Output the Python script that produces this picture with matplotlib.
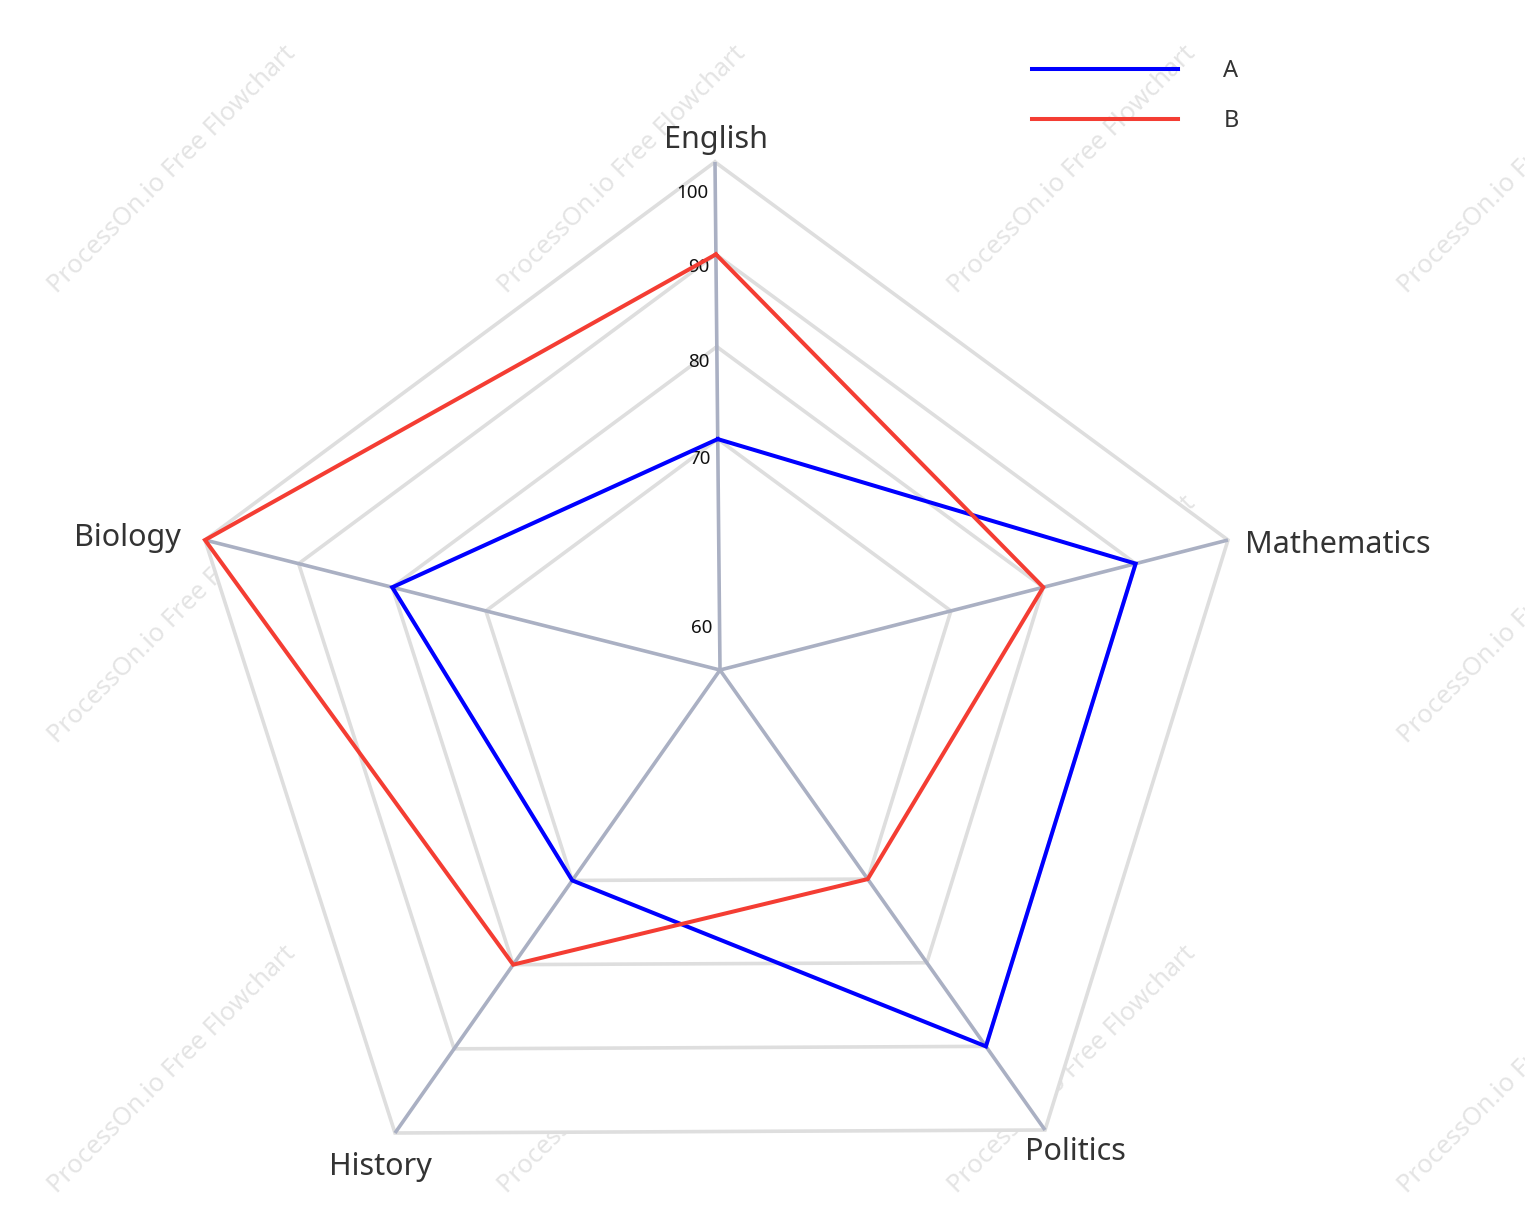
import numpy as np
import matplotlib
matplotlib.use("Agg")
import matplotlib.pyplot as plt

# ---------------- data ----------------
categories = ["English", "Mathematics", "Politics", "History", "Biology"]
series_names = ["A", "B"]
scores_a = [70, 90, 90, 70, 80]
scores_b = [90, 80, 70, 80, 100]
ring_values = [70, 80, 90, 100]
tick_values = [60, 70, 80, 90, 100]
tick_labels = ["60", "70", "80", "90", "100"]
r_min, r_max = 45, 100
watermark = "ProcessOn.io Free Flowchart"

# ---------------- layout ----------------
W, H = 1525, 1230
center = np.array([720.0, 670.0])
spoke_ends = np.array([[715, 162], [1228, 540], [1045, 1130], [395, 1133], [205, 540]], float)
spokes = spoke_ends - center
# label placement (dx, dy, ha) relative to spoke end, baseline anchored
cat_offsets = [(1, -14, "center"), (17, 13, "left"), (-20, 30, "left"),
               (-15, 42, "center"), (-24, 6, "right")]
tick_label_frac = [0.083, 0.415, 0.606, 0.793, 0.939]

col_a = "#0000ff"
col_b = "#f43d33"
ring_col = "#dedede"
spoke_col = "#aab0c3"
text_col = "#333333"

plt.rcParams["font.family"] = ["Noto Sans", "DejaVu Sans"]

fig = plt.figure(figsize=(W / 100, H / 100), dpi=100)
ax = fig.add_axes([0, 0, 1, 1])
ax.set_xlim(0, W)
ax.set_ylim(H, 0)
ax.axis("off")


def radial(v):
    return (np.asarray(v, float) - r_min) / (r_max - r_min)


def to_xy(values):
    f = radial(values)[:, None]
    pts = center + f * spokes
    pts = np.vstack([pts, pts[:1]])
    return pts[:, 0], pts[:, 1]


# watermark tiles
for cx in [172, 622, 1072, 1522]:
    for cy in [170, 620, 1070]:
        ax.text(cx, cy, watermark, rotation=45, rotation_mode="anchor",
                ha="center", va="center", color="#e4e4e4", fontsize=18.3, zorder=0)

# white background of radar area
ox, oy = to_xy([r_max] * len(categories))
ax.fill(ox, oy, color="white", zorder=1, lw=0)

# rings
for v in ring_values:
    xs, ys = to_xy([v] * len(categories))
    ax.plot(xs, ys, color=ring_col, lw=2.6, zorder=2, solid_joinstyle="miter")

# spokes
for end in spoke_ends:
    ax.plot([center[0], end[0]], [center[1], end[1]], color=spoke_col, lw=2.6,
            zorder=3, solid_capstyle="butt")

# tick labels along English axis
for f, lab in zip(tick_label_frac, tick_labels):
    p = center + f * spokes[0]
    ax.text(p[0] - 7, p[1], lab, ha="right", va="center", fontsize=13.5,
            color="#111111", zorder=4)

# data series
for vals, col, name in [(scores_a, col_a, series_names[0]), (scores_b, col_b, series_names[1])]:
    xs, ys = to_xy(vals)
    ax.plot(xs, ys, color=col, lw=2.9, zorder=5, label=name, solid_joinstyle="miter")

# category labels
for cat, end, (dx, dy, ha) in zip(categories, spoke_ends, cat_offsets):
    ax.text(end[0] + dx, end[1] + dy, cat, ha=ha, va="baseline", fontsize=22,
            color=text_col, zorder=6)

leg = ax.legend(loc="upper left", bbox_to_anchor=(1032 / W, 1 - 59 / H),
                frameon=False, fontsize=17, handlelength=6.2, handletextpad=1.9,
                labelspacing=1.1, borderpad=0, borderaxespad=0)
for t in leg.get_texts():
    t.set_color(text_col)

fig.savefig("out.png", dpi=100, facecolor="white")
